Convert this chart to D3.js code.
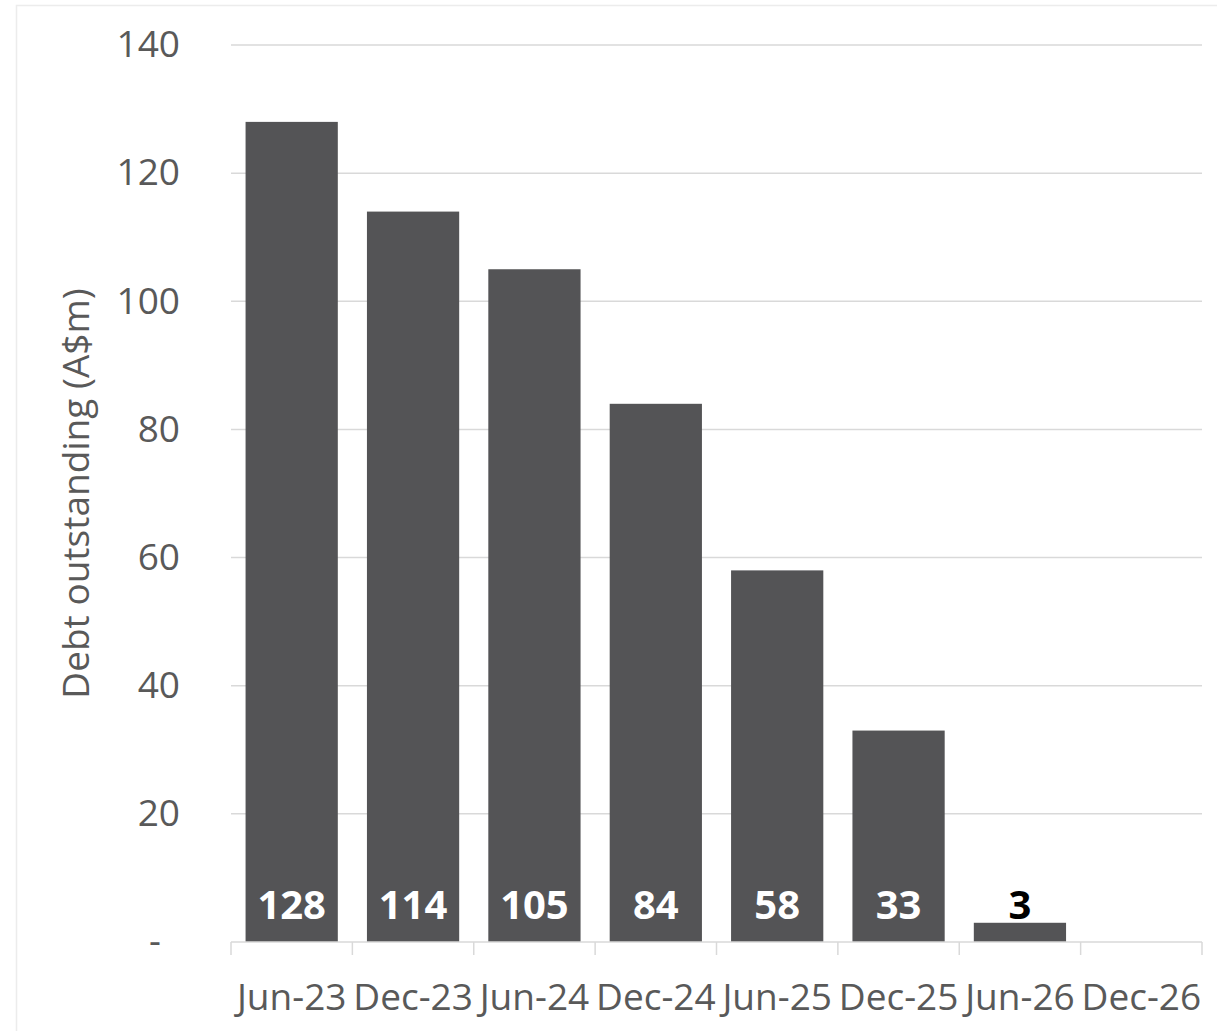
<!DOCTYPE html>
<html>
<head>
<meta charset="utf-8">
<script src="https://cdn.jsdelivr.net/npm/d3@7"></script>
<style>
  html, body { margin: 0; padding: 0; background: #ffffff; }
  svg { display: block; font-family: "Open Sans", sans-serif; }
</style>
</head>
<body>
<svg id="chart" width="1217" height="1031"></svg>
<script>
const categories = ["Jun-23", "Dec-23", "Jun-24", "Dec-24", "Jun-25", "Dec-25", "Jun-26", "Dec-26"];
const debtValues = [128, 114, 105, 84, 58, 33, 3, null];
const yTicks = [0, 20, 40, 60, 80, 100, 120, 140];
const yTitle = "Debt outstanding (A$m)";

const svg = d3.select("#chart");
const W = 1217, H = 1031;
const plot = { left: 231, right: 1202, top: 45, bottom: 942 };

// outer frame
svg.append("rect")
  .attr("x", 16.5).attr("y", 5.5)
  .attr("width", W + 20).attr("height", H + 20)
  .attr("fill", "none").attr("stroke", "#ececec").attr("stroke-width", 1.5);

const x = d3.scaleBand().domain(categories).range([plot.left, plot.right]).padding(0);
const y = d3.scaleLinear().domain([0, 140]).range([plot.bottom, plot.top]);

// gridlines
svg.append("g").selectAll("line")
  .data(yTicks.filter(d => d > 0))
  .join("line")
  .attr("x1", plot.left).attr("x2", plot.right)
  .attr("y1", d => y(d)).attr("y2", d => y(d))
  .attr("stroke", "#d9d9d9").attr("stroke-width", 1.5);

// y axis labels
const yAxis = svg.append("g")
  .attr("transform", `translate(${plot.left},0)`)
  .call(d3.axisLeft(y).tickValues(yTicks).tickSize(0).tickPadding(51)
    .tickFormat(d => d === 0 ? "-" : d));
yAxis.select(".domain").remove();
yAxis.selectAll("text")
  .attr("fill", "#595959")
  .style("font-size", "37px")
  .style("font-family", "'Open Sans', sans-serif")
  .attr("x", d => d === 0 ? -70 : -51);

// bars
const bw = x.bandwidth() * 0.76;
svg.append("g").selectAll("rect")
  .data(categories.map((c, i) => ({ c, v: debtValues[i] })).filter(d => d.v != null))
  .join("rect")
  .attr("x", d => x(d.c) + (x.bandwidth() - bw) / 2)
  .attr("width", bw)
  .attr("y", d => y(d.v))
  .attr("height", d => y(0) - y(d.v))
  .attr("fill", "#545456");

// x axis line + boundary ticks
svg.append("line")
  .attr("x1", plot.left).attr("x2", plot.right)
  .attr("y1", y(0)).attr("y2", y(0))
  .attr("stroke", "#d9d9d9").attr("stroke-width", 1.5);
const bounds = categories.map(c => x(c)).concat([x(categories[categories.length - 1]) + x.bandwidth()]);
svg.append("g").selectAll("line")
  .data(bounds)
  .join("line")
  .attr("x1", d => d).attr("x2", d => d)
  .attr("y1", y(0)).attr("y2", y(0) + 13)
  .attr("stroke", "#d9d9d9").attr("stroke-width", 1.5);

// x axis labels
const xAxis = svg.append("g")
  .attr("transform", `translate(0,${y(0)})`)
  .call(d3.axisBottom(x).tickSize(0).tickPadding(0));
xAxis.select(".domain").remove();
xAxis.selectAll("text")
  .attr("fill", "#595959")
  .attr("y", 68).attr("dy", 0)
  .style("font-size", "37px")
  .style("font-family", "'Open Sans', sans-serif");

// data labels
svg.append("g").selectAll("text")
  .data(categories.map((c, i) => ({ c, v: debtValues[i] })).filter(d => d.v != null))
  .join("text")
  .attr("x", d => x(d.c) + x.bandwidth() / 2)
  .attr("y", y(0) - 23)
  .attr("text-anchor", "middle")
  .attr("fill", d => d.v < 10 ? "#000000" : "#ffffff")
  .style("font-size", "40px")
  .style("font-weight", "700")
  .text(d => d.v);

// y title
svg.append("text")
  .attr("transform", `translate(89,${(plot.top + plot.bottom) / 2}) rotate(-90)`)
  .attr("text-anchor", "middle")
  .attr("fill", "#595959")
  .style("font-size", "37px")
  .text(yTitle);
</script>
</body>
</html>
